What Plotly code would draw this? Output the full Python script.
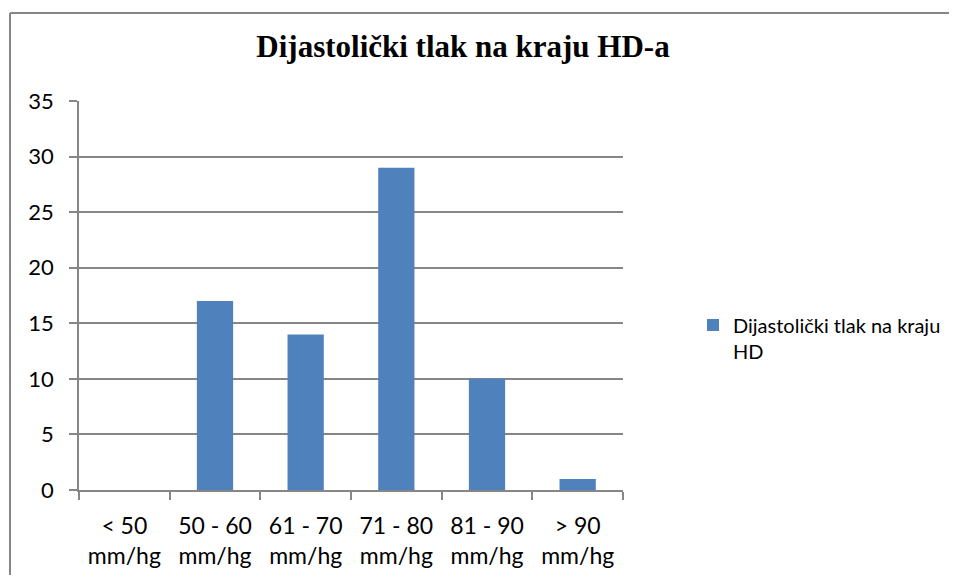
import plotly.graph_objects as go

categories = ["< 50<br>mm/hg", "50 - 60<br>mm/hg", "61 - 70<br>mm/hg",
              "71 - 80<br>mm/hg", "81 - 90<br>mm/hg", "> 90<br>mm/hg"]
values = [0, 17, 14, 29, 10, 1]
series_name = "Dijastolički tlak na kraju<br>HD"
title_text = "Dijastolički tlak na kraju HD-a"
y_ticks = [0, 5, 10, 15, 20, 25, 30, 35]

# page has an 8px body margin; figure sized so the page fits the window
OFF = 8
W, H = 957 - 2 * OFF, 583 - 2 * OFF
# plot area in screen pixels
L, R, T, B = 79 - OFF, 623 - OFF, 101 - OFF, 490 - OFF


def px_x(p):
    return (p - OFF - L) / (R - L)


def px_y(p):
    return (B - (p - OFF)) / (B - T)


GRAY = "#868686"
FONT = "Lato"

fig = go.Figure()
fig.add_trace(go.Bar(
    x=categories, y=values, name=series_name,
    marker=dict(color="#4F81BD", line=dict(width=0)),
    showlegend=True,
))

fig.update_layout(
    width=W, height=H,
    margin=dict(l=L, r=W - R, t=T, b=H - B, autoexpand=False),
    paper_bgcolor="white", plot_bgcolor="white",
    bargap=0.6,
    title=dict(text=title_text, x=(463 - OFF) / W, xanchor="center",
               y=1 - (46 - OFF) / H, yanchor="middle",
               font=dict(family="Liberation Serif", size=31, color="black", weight="bold")),
    font=dict(family=FONT, size=22, color="black"),
    showlegend=True,
    legend=dict(x=px_x(693), y=px_y(338), xanchor="left", yanchor="middle",
                font=dict(family=FONT, size=20, color="black"),
                bgcolor="rgba(0,0,0,0)", itemwidth=30, valign="top"),
    xaxis=dict(type="category", showline=True, linecolor=GRAY, linewidth=1.5,
               ticks="outside", tickson="boundaries", ticklen=8, tickcolor=GRAY, tickwidth=1.5,
               ticklabelstandoff=15, automargin=False,
               tickfont=dict(family=FONT, size=23, color="black"), showgrid=False),
    yaxis=dict(range=[0, 35], tickvals=y_ticks, showline=True, linecolor=GRAY, linewidth=1.5,
               ticks="outside", ticklen=8, tickcolor=GRAY, tickwidth=1.5,
               ticklabelstandoff=11, automargin=False,
               showgrid=True, gridcolor=GRAY, gridwidth=1.5, zeroline=False,
               tickfont=dict(family=FONT, size=22, color="black")),
    shapes=[
        dict(type="line", xref="paper", yref="paper", x0=px_x(10), x1=px_x(990),
             y0=px_y(13), y1=px_y(13), line=dict(color=GRAY, width=2)),
        dict(type="line", xref="paper", yref="paper", x0=px_x(10), x1=px_x(10),
             y0=px_y(13), y1=px_y(620), line=dict(color=GRAY, width=2)),
    ],
)

fig.write_html("out.html")
